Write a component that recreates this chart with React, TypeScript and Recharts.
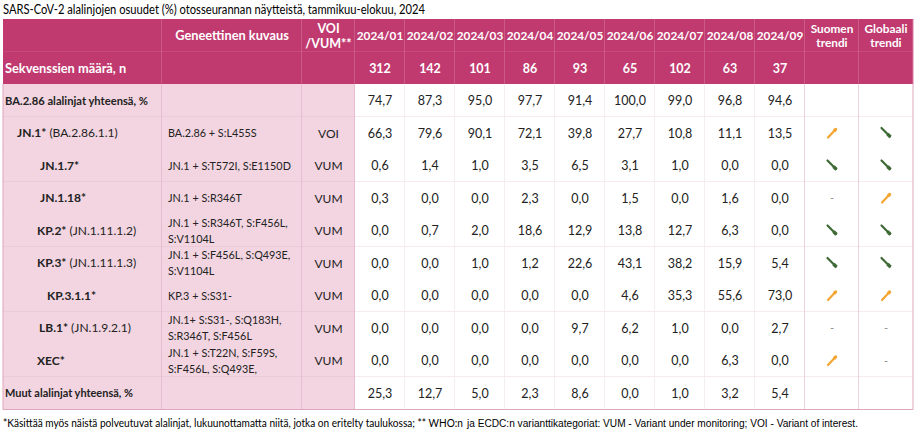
import React from "react"
import { Bar, BarChart, Customized, XAxis, YAxis } from "recharts"

const TITLE = "SARS-CoV-2 alalinjojen osuudet (%) otosseurannan näytteistä, tammikuu-elokuu, 2024"
const FOOT_A = "*Käsittää myös näistä polveutuvat alalinjat, lukuunottamatta niitä, jotka on eritelty taulukossa; ** WHO:n"
const FOOT_B = "ja ECDC:n varianttikategoriat: VUM - Variant under monitoring; VOI - Variant of interest."

const MONTHS = ["2024/01", "2024/02", "2024/03", "2024/04", "2024/05", "2024/06", "2024/07", "2024/08", "2024/09"]
const SEQ_COUNTS = [312, 142, 101, 86, 93, 65, 102, 63, 37]

const LINEAGES = ["BA.2.86 alalinjat yhteensä,  %", "JN.1*", "JN.1.7*", "JN.1.18*", "KP.2*", "KP.3*", "KP.3.1.1*", "LB.1*", "XEC*", "Muut alalinjat yhteensä, %"]
const PANGO_ALIAS = ["", " (BA.2.86.1.1)", "", "", " (JN.1.11.1.2)", " (JN.1.11.1.3)", "", " (JN.1.9.2.1)", "", ""]
const DESCRIPTIONS = [
  [],
  ["BA.2.86 + S:L455S"],
  ["JN.1 + S:T572I, S:E1150D"],
  ["JN.1 + S:R346T"],
  ["JN.1 + S:R346T, S:F456L,", "S:V1104L"],
  ["JN.1 + S:F456L, S:Q493E,", "S:V1104L"],
  ["KP.3 + S:S31-"],
  ["JN.1+ S:S31-, S:Q183H,", "S:R346T, S:F456L"],
  ["JN.1 + S:T22N, S:F59S,", "S:F456L, S:Q493E,"],
  [],
]
const CATEGORIES = ["", "VOI", "VUM", "VUM", "VUM", "VUM", "VUM", "VUM", "VUM", ""]

const SHARES = [
  [74.7, 87.3, 95.0, 97.7, 91.4, 100.0, 99.0, 96.8, 94.6],
  [66.3, 79.6, 90.1, 72.1, 39.8, 27.7, 10.8, 11.1, 13.5],
  [0.6, 1.4, 1.0, 3.5, 6.5, 3.1, 1.0, 0.0, 0.0],
  [0.3, 0.0, 0.0, 2.3, 0.0, 1.5, 0.0, 1.6, 0.0],
  [0.0, 0.7, 2.0, 18.6, 12.9, 13.8, 12.7, 6.3, 0.0],
  [0.0, 0.0, 1.0, 1.2, 22.6, 43.1, 38.2, 15.9, 5.4],
  [0.0, 0.0, 0.0, 0.0, 0.0, 4.6, 35.3, 55.6, 73.0],
  [0.0, 0.0, 0.0, 0.0, 9.7, 6.2, 1.0, 0.0, 2.7],
  [0.0, 0.0, 0.0, 0.0, 0.0, 0.0, 0.0, 6.3, 0.0],
  [25.3, 12.7, 5.0, 2.3, 8.6, 0.0, 1.0, 3.2, 5.4],
]
const FIN_TREND = ["", "up", "down", "-", "down", "down", "up", "-", "up", ""]
const GLOBAL_TREND = ["", "down", "down", "up", "down", "down", "up", "-", "-", ""]

// layout
const COL_W = [159, 140, 53, 50, 50, 50, 50, 50, 50, 50, 50, 50, 54, 54]
const TOTAL_W = COL_W.reduce((a, b) => a + b, 0)
const INDENT = [2, 14, 37, 37, 34, 34, 44, 36, 34, 2]
const FONT = "Lato, 'Noto Sans', sans-serif"
const HEAD = "#C03A6F"
const HEAD_LINE = "#D97AA1"
const PINK = "#F2D5E0"
const PINK_LINE = "#DDA7BE"
const GRID_V = "#EADDE3"
const TEXT = "#222"

const rows = [
  { id: "h1", kind: "head1", i: -1 },
  { id: "h2", kind: "head2", i: -1 },
  ...LINEAGES.map((name, i) => ({ id: name, kind: "body", i })),
]

const fmt = (v: number) => v.toFixed(1).replace(".", ",")

function Trend({ t, cx, cy }: { t: string; cx: number; cy: number }) {
  if (t === "up")
    return (
      <g>
        <line x1={cx - 4} y1={cy + 4.5} x2={cx + 4} y2={cy - 4} stroke="#F2A531" strokeWidth={2.2} strokeLinecap="round" />
        <line x1={cx + 2} y1={cy - 2} x2={cx + 4.2} y2={cy - 4.2} stroke="#F2A531" strokeWidth={3.2} />
      </g>
    )
  if (t === "down")
    return (
      <g>
        <line x1={cx - 4.5} y1={cy - 5} x2={cx + 4} y2={cy + 3.5} stroke="#3F6A36" strokeWidth={2.2} strokeLinecap="round" />
        <line x1={cx + 1.5} y1={cy + 1} x2={cx + 4.5} y2={cy + 4} stroke="#3F6A36" strokeWidth={3.4} />
      </g>
    )
  if (t === "-")
    return (
      <text x={cx} y={cy + 4} textAnchor="middle" fontSize={11} fill="#8a8a8a" fontFamily={FONT}>
        -
      </text>
    )
  return null
}

function renderCell(col: number, p: any) {
  const { x, y, width: w, height: h, payload: row } = p
  const cx = x + w / 2
  const cy = y + h / 2
  const isHead = row.kind !== "body"
  const fill = isHead ? HEAD : col < 3 ? PINK : "#FFFFFF"
  const hLine = isHead ? HEAD_LINE : PINK_LINE
  const vLine = isHead ? HEAD_LINE : col < 3 || col >= 11 ? PINK_LINE : GRID_V
  let content: React.ReactNode = null

  if (row.kind === "head1") {
    const white = { fill: "#fff", fontWeight: 700, fontFamily: FONT, textAnchor: "middle" as const }
    if (col === 1)
      content = <text x={cx} y={cy + 4.5} fontSize={12.8} {...white}>Geneettinen kuvaus</text>
    else if (col === 2)
      content = (
        <text fontSize={12.5} {...white}>
          <tspan x={cx} y={cy - 3}>VOI</tspan>
          <tspan x={cx} y={cy + 12.5}>/VUM**</tspan>
        </text>
      )
    else if (col >= 3 && col < 12)
      content = <text x={cx} y={cy + 4.5} fontSize={11.8} {...white}>{MONTHS[col - 3]}</text>
    else if (col >= 12)
      content = (
        <text fontSize={11.8} {...white}>
          <tspan x={cx} y={cy - 3}>{col === 12 ? "Suomen" : "Globaali"}</tspan>
          <tspan x={cx} y={cy + 11.5}>trendi</tspan>
        </text>
      )
  } else if (row.kind === "head2") {
    if (col === 0)
      content = (
        <text x={x + 2} y={cy + 4.5} fontSize={12.8} fill="#fff" fontWeight={700} fontFamily={FONT}>
          Sekvenssien määrä, n
        </text>
      )
    else if (col >= 3 && col < 12)
      content = (
        <text x={cx} y={cy + 4.5} fontSize={12.5} fill="#fff" fontWeight={700} fontFamily={FONT} textAnchor="middle">
          {SEQ_COUNTS[col - 3]}
        </text>
      )
  } else {
    const i = row.i
    const total = i === 0 || i === LINEAGES.length - 1
    if (col === 0)
      content = total ? (
        <text x={x + INDENT[i]} y={cy + 4} fontSize={11.5} fill={TEXT} fontFamily={FONT} fontWeight={700}
          textLength={i === 0 ? 143 : 128} lengthAdjust="spacingAndGlyphs">
          {LINEAGES[i]}
        </text>
      ) : (
        <text x={x + INDENT[i]} y={cy + 4} fontSize={12} fill={TEXT} fontFamily={FONT}>
          <tspan fontWeight={700}>{LINEAGES[i]}</tspan>
          {PANGO_ALIAS[i] && <tspan>{PANGO_ALIAS[i]}</tspan>}
        </text>
      )
    else if (col === 1) {
      const lines = DESCRIPTIONS[i]
      content = (
        <text fontSize={10.8} fill={TEXT} fontFamily={FONT}>
          {lines.map((l, k) => (
            <tspan key={k} x={x + 6} y={lines.length === 1 ? cy + 4 : cy - 4 + k * 16}>
              {l}
            </tspan>
          ))}
        </text>
      )
    } else if (col === 2)
      content = (
        <text x={cx} y={cy + 4.5} fontSize={12} fill={TEXT} fontFamily={FONT} textAnchor="middle">
          {CATEGORIES[i]}
        </text>
      )
    else if (col < 12)
      content = (
        <text x={cx} y={cy + 4.5} fontSize={12.5} fill={TEXT} fontFamily={FONT} textAnchor="middle">
          {fmt(SHARES[i][col - 3])}
        </text>
      )
    else content = <Trend t={col === 12 ? FIN_TREND[i] : GLOBAL_TREND[i]} cx={cx} cy={cy} />
  }

  return (
    <g>
      <rect x={x} y={y} width={w} height={h} fill={fill} />
      <line x1={x} y1={y + h} x2={x + w} y2={y + h} stroke={hLine} strokeWidth={1} />
      <line x1={x + w} y1={y} x2={x + w} y2={y + h} stroke={vLine} strokeWidth={1} />
      {col === 0 && !isHead && <line x1={x} y1={y} x2={x} y2={y + h} stroke={PINK_LINE} strokeWidth={1} />}
      {content}
    </g>
  )
}

function Notes() {
  return (
    <g>
      <text x={3} y={14} fontSize={12.5} fill="#000" fontFamily={FONT} textLength={422} lengthAdjust="spacingAndGlyphs">
        {TITLE}
      </text>
      <text x={3} y={427} fontSize={10.8} fill="#000" fontFamily={FONT} textLength={460} lengthAdjust="spacingAndGlyphs">
        {FOOT_A}
      </text>
      <text x={467} y={427} fontSize={10} fill="#000" fontFamily="'Liberation Sans', Arial, sans-serif"
        textLength={391} lengthAdjust="spacingAndGlyphs">
        {FOOT_B}
      </text>
    </g>
  )
}

export default function App() {
  return (
    <div style={{ position: "absolute", left: 0, top: 0, background: "#fff" }}>
      <BarChart
        width={920}
        height={436}
        data={rows}
        layout="vertical"
        margin={{ top: 19, right: 7, bottom: 27, left: 3 }}
        barCategoryGap={0}
        barGap={0}
      >
        <XAxis type="number" domain={[0, TOTAL_W]} hide />
        <YAxis type="category" dataKey="id" hide />
        {COL_W.map((_, j) => (
          <Bar
            key={j}
            dataKey={() => COL_W[j]}
            stackId="row"
            isAnimationActive={false}
            shape={(p: any) => renderCell(j, p)}
          />
        ))}
        <Customized component={Notes} />
      </BarChart>
    </div>
  )
}
